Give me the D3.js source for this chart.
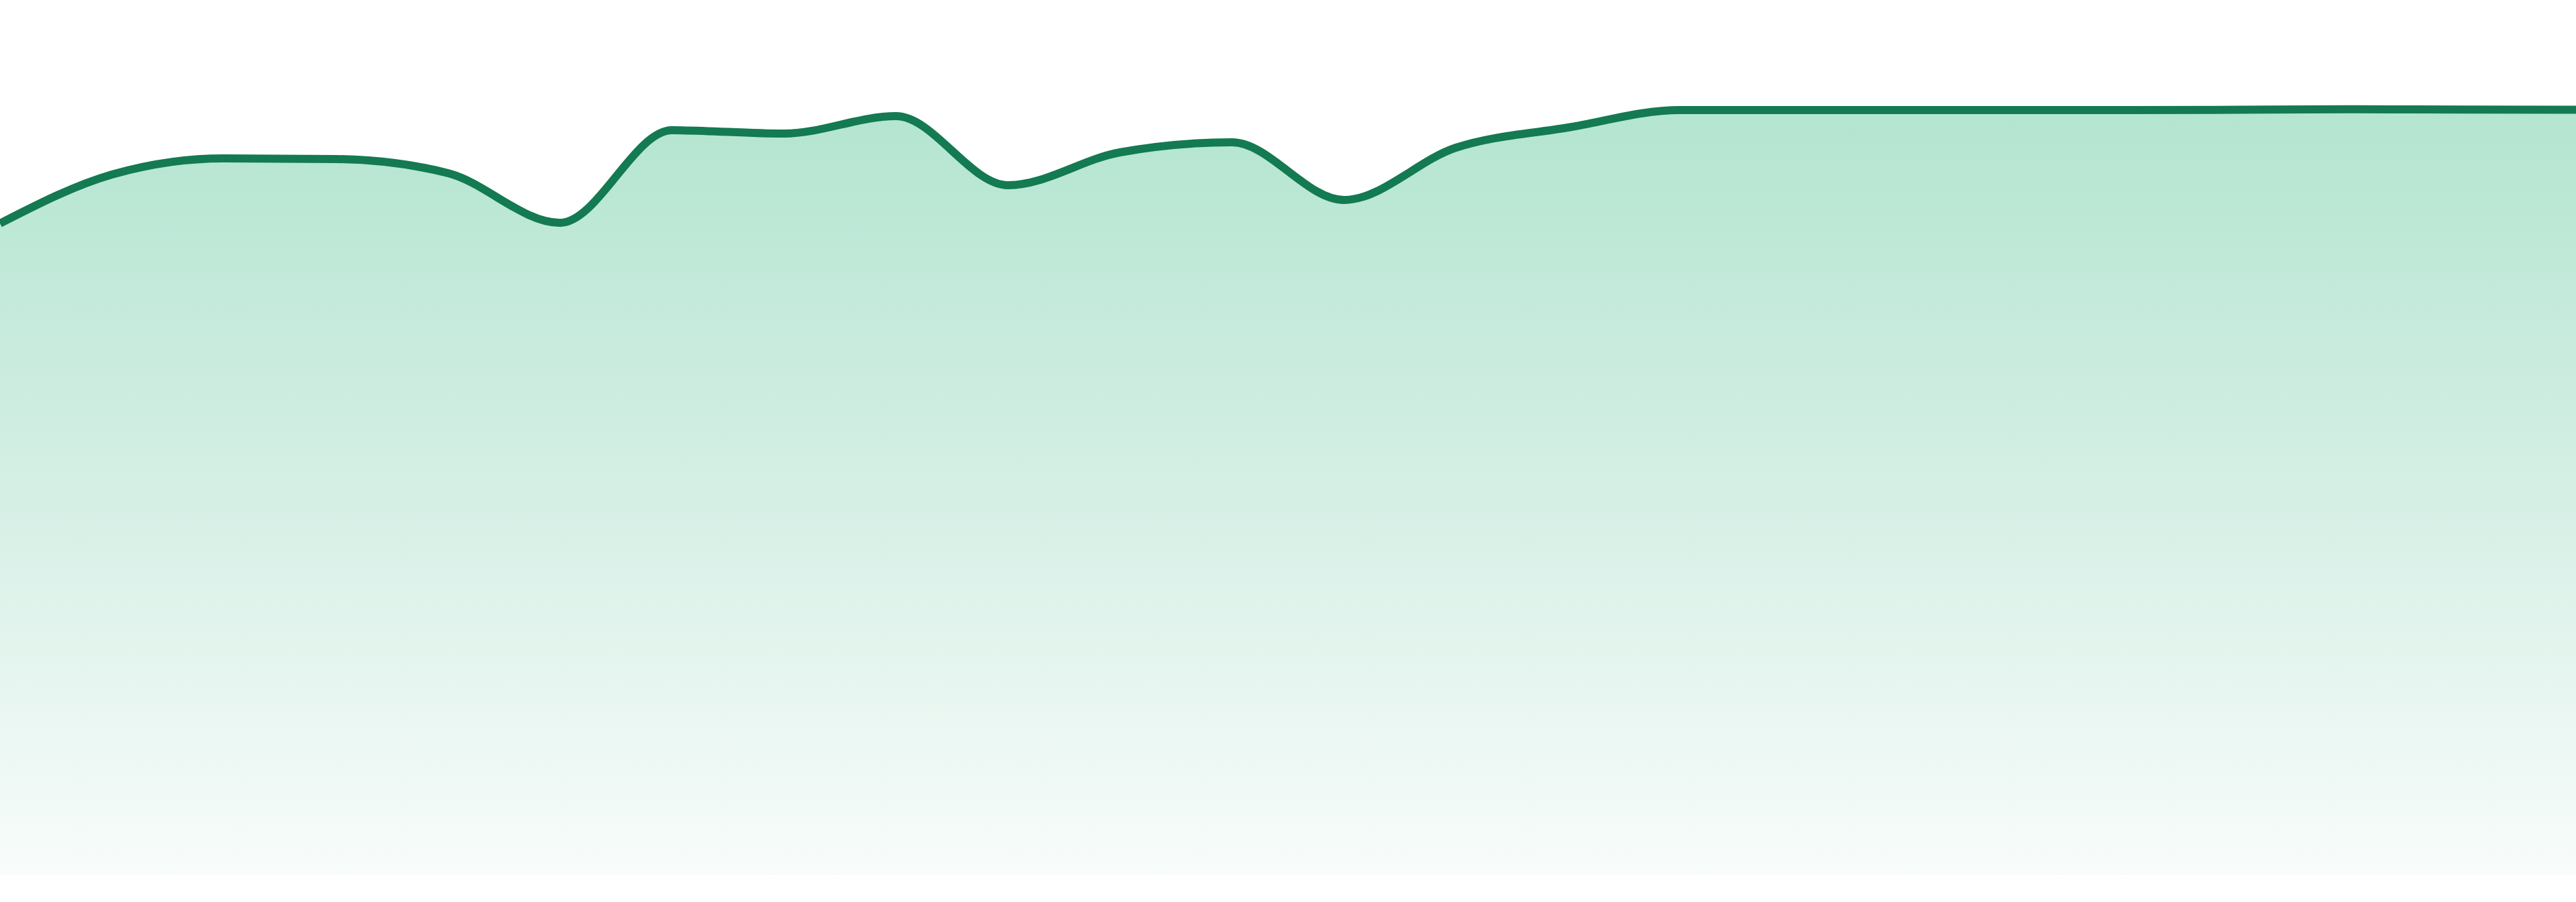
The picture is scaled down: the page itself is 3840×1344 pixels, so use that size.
<!DOCTYPE html>
<html>
<head>
<meta charset="utf-8">
<script src="https://cdn.jsdelivr.net/npm/d3@7"></script>
<style>
  html, body { margin: 0; padding: 0; background: #fff; }
  svg { display: block; }
</style>
</head>
<body>
<div id="viz"></div>
<script>
const WIDTH = 3840;
const HEIGHT = 1344;
const BASELINE = 1304; // bottom of the filled area

// 24 samples, evenly spaced across the full width
const hours = ["00", "01", "02", "03", "04", "05", "06", "07", "08", "09", "10", "11",
               "12", "13", "14", "15", "16", "17", "18", "19", "20", "21", "22", "23"];
const values = [97.1, 104.4, 106.8, 106.7, 104.6, 97.2, 111.0, 110.5, 113.1, 102.8, 107.7, 109.2,
                100.6, 108.4, 111.4, 114.0, 114.0, 114.0, 114.0, 114.0, 114.04, 114.12, 114.08, 114.04];
const yDomain = [0, 120];

const data = hours.map((h, i) => ({hour: h, value: values[i]}));

const svg = d3.select("#viz").append("svg")
  .attr("width", WIDTH)
  .attr("height", HEIGHT);

const x = d3.scalePoint()
  .domain(hours)
  .range([0, WIDTH]);

const y = d3.scaleLinear()
  .domain(yDomain)
  .range([BASELINE, BASELINE - 1200]);

// vertical fade under the line
const grad = svg.append("defs").append("linearGradient")
  .attr("id", "fade")
  .attr("x1", 0).attr("y1", 0)
  .attr("x2", 0).attr("y2", 1);
grad.append("stop").attr("offset", "0%").attr("stop-color", "#b3e5d0");
grad.append("stop").attr("offset", "50%").attr("stop-color", "#d5efe5");
grad.append("stop").attr("offset", "100%").attr("stop-color", "#f8fcfa");

const area = d3.area()
  .x(d => x(d.hour))
  .y0(y(0))
  .y1(d => y(d.value))
  .curve(d3.curveMonotoneX);

const line = d3.line()
  .x(d => x(d.hour))
  .y(d => y(d.value))
  .curve(d3.curveMonotoneX);

svg.append("path")
  .datum(data)
  .attr("fill", "url(#fade)")
  .attr("d", area);

svg.append("path")
  .datum(data)
  .attr("fill", "none")
  .attr("stroke", "#137a51")
  .attr("stroke-width", 12)
  .attr("stroke-linejoin", "round")
  .attr("d", line);
</script>
</body>
</html>
